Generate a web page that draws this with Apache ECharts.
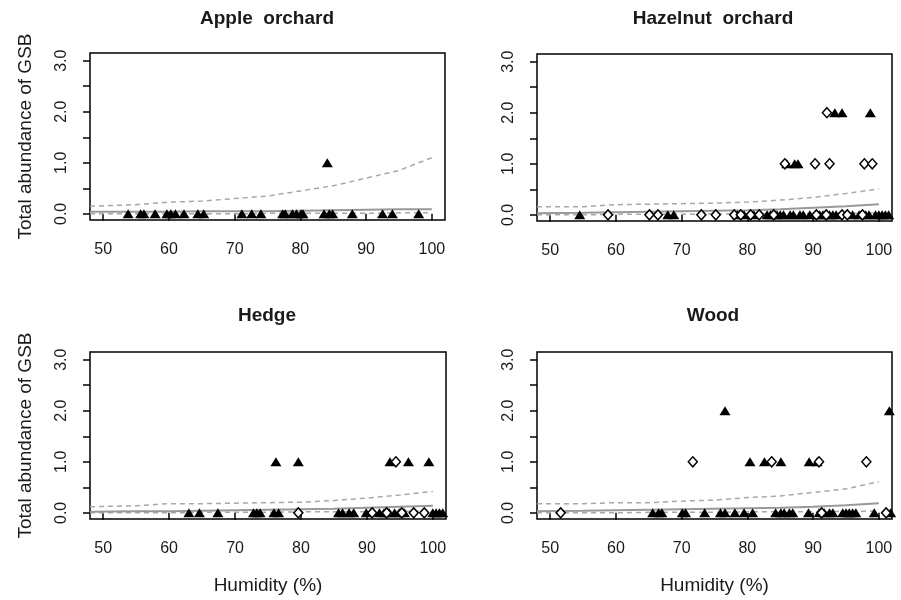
<!DOCTYPE html>
<html>
<head>
<meta charset="utf-8">
<script src="https://cdn.jsdelivr.net/npm/echarts@6/dist/echarts.min.js"></script>
<style>html,body{margin:0;padding:0;background:#fff}#c{width:901px;height:600px}</style>
</head>
<body>
<div id="c"></div>
<script>
const panelTitles = ['Apple  orchard', 'Hazelnut  orchard', 'Hedge', 'Wood'];
const xTickValues = [50, 60, 70, 80, 90, 100];
const yTickValues = [0, 0.5, 1, 1.5, 2, 2.5, 3];
const yLabelValues = [0, 1, 2, 3];
const yAxisTitle = 'Total abundance of GSB';
const xAxisTitle = 'Humidity (%)';

// curve x grid
const humidityGrid = [48, 55, 60, 65, 70, 75, 80, 85, 90, 95, 100];

// Apple orchard
const appleFit   = [0.04, 0.04, 0.04, 0.05, 0.05, 0.05, 0.06, 0.07, 0.08, 0.09, 0.09];
const appleUpper = [0.15, 0.18, 0.23, 0.25, 0.30, 0.35, 0.45, 0.55, 0.70, 0.85, 1.10];
const appleLower = [0.00, 0.00, 0.00, 0.00, 0.00, 0.01, 0.01, 0.01, 0.01, 0.02, 0.02];
const appleTriangles = [[53.8,0],[55.7,0],[56.2,0],[57.9,0],[59.7,0],[60.3,0],[61.0,0],[62.3,0],[64.4,0],[65.3,0],[71.1,0],[72.6,0],[74.0,0],[77.3,0],[77.7,0],[78.8,0],[79.4,0],[80.1,0],[80.4,0],[83.6,0],[84.4,0],[84.9,0],[87.9,0],[92.5,0],[94.0,0],[98.0,0],[84.1,1]];
const appleDiamonds = [];

// Hazelnut orchard
const hazelFit   = [0.03, 0.04, 0.05, 0.06, 0.07, 0.08, 0.09, 0.11, 0.14, 0.17, 0.21];
const hazelUpper = [0.16, 0.16, 0.20, 0.21, 0.22, 0.23, 0.25, 0.29, 0.34, 0.42, 0.51];
const hazelLower = [0.00, 0.00, 0.01, 0.01, 0.01, 0.02, 0.02, 0.02, 0.03, 0.03, 0.04];
const hazelTriangles = [[54.5,0],[67.9,0],[68.8,0],[78.5,0],[79.5,0],[81,0],[83,0],[83.5,0],[84.5,0],[85,0],[85.5,0],[86.5,0],[87,0],[88,0],[88.5,0],[89.5,0],[91,0],[91.5,0],[92.5,0],[93,0],[93.5,0],[96,0],[97,0],[98,0],[98.5,0],[99.5,0],[100,0],[100.5,0],[101,0],[101.5,0],[86.0,1],[87.2,1],[87.7,1],[93.3,2],[94.4,2],[98.7,2]];
const hazelDiamonds = [[58.8,0],[65.1,0],[66.4,0],[73.0,0],[75.2,0],[78,0],[79,0],[80.5,0],[81.8,0],[84,0],[90.5,0],[92,0],[94.4,0],[95.2,0],[97.5,0],[85.7,1],[90.3,1],[92.5,1],[97.8,1],[99.0,1],[92.1,2]];

// Hedge
const hedgeFit   = [0.02, 0.03, 0.03, 0.04, 0.05, 0.06, 0.07, 0.08, 0.10, 0.12, 0.14];
const hedgeUpper = [0.12, 0.14, 0.18, 0.18, 0.19, 0.20, 0.21, 0.24, 0.29, 0.35, 0.42];
const hedgeLower = [0.00, 0.00, 0.00, 0.01, 0.01, 0.01, 0.02, 0.02, 0.02, 0.03, 0.03];
const hedgeTriangles = [[63.0,0],[64.6,0],[67.4,0],[72.8,0],[73.3,0],[73.8,0],[75.9,0],[76.6,0],[85.7,0],[86.3,0],[87.3,0],[88.0,0],[89.9,0],[91.9,0],[92.6,0],[93.4,0],[94.2,0],[94.9,0],[95.7,0],[100,0],[100.5,0],[101,0],[101.5,0],[76.2,1],[79.6,1],[93.5,1],[96.3,1],[99.4,1]];
const hedgeDiamonds = [[79.6,0],[90.8,0],[93.0,0],[95.3,0],[97.1,0],[98.7,0],[94.4,1]];

// Wood
const woodFit   = [0.03, 0.04, 0.05, 0.06, 0.07, 0.08, 0.09, 0.10, 0.12, 0.15, 0.19];
const woodUpper = [0.18, 0.18, 0.20, 0.20, 0.23, 0.25, 0.30, 0.33, 0.40, 0.47, 0.61];
const woodLower = [0.00, 0.00, 0.00, 0.01, 0.01, 0.01, 0.02, 0.02, 0.02, 0.03, 0.03];
const woodTriangles = [[65.6,0],[66.5,0],[67.0,0],[70.1,0],[70.6,0],[73.5,0],[75.9,0],[76.6,0],[78.1,0],[79.5,0],[80.8,0],[84.3,0],[85.1,0],[85.6,0],[86.4,0],[86.9,0],[89.3,0],[90.9,0],[91.7,0],[92.5,0],[93.0,0],[94.5,0],[95.0,0],[95.5,0],[96.0,0],[96.5,0],[99.3,0],[101.8,0],[80.4,1],[82.6,1],[85.1,1],[89.4,1],[90.6,1],[76.6,2],[101.6,2]];
const woodDiamonds = [[51.6,0],[91.3,0],[101.1,0],[71.7,1],[83.7,1],[90.9,1],[98.1,1]];

const panels = [
  {fit: appleFit, upper: appleUpper, lower: appleLower, tri: appleTriangles, dia: appleDiamonds},
  {fit: hazelFit, upper: hazelUpper, lower: hazelLower, tri: hazelTriangles, dia: hazelDiamonds},
  {fit: hedgeFit, upper: hedgeUpper, lower: hedgeLower, tri: hedgeTriangles, dia: hedgeDiamonds},
  {fit: woodFit, upper: woodUpper, lower: woodLower, tri: woodTriangles, dia: woodDiamonds}
];

const FONT = "'Liberation Sans', Arial, sans-serif";
const TXT = '#1a1a1a';
const grids = [
  {left: 90, top: 53, width: 355, height: 167},
  {left: 537, top: 54, width: 355, height: 167},
  {left: 90, top: 352, width: 356, height: 167},
  {left: 537, top: 352, width: 355, height: 167}
];
const titlePos = [[267, 9], [713, 9], [267, 306], [713, 306]];

const pair = (xs, ys) => xs.map((x, i) => [x, ys[i]]);

const option = {
  animation: false,
  backgroundColor: '#fff',
  title: panelTitles.map((t, i) => ({
    text: t, left: titlePos[i][0], top: titlePos[i][1], textAlign: 'center', padding: 0,
    textStyle: {fontFamily: FONT, fontSize: 19, fontWeight: 'bold', color: TXT}
  })),
  grid: grids.map(g => Object.assign({show: true, borderColor: '#000', borderWidth: 1.5, backgroundColor: 'transparent', containLabel: false}, g)),
  xAxis: grids.map((g, i) => ({
    type: 'value', gridIndex: i, min: 48, max: 102,
    name: i >= 2 ? xAxisTitle : '', nameLocation: 'middle', nameGap: 57,
    nameTextStyle: {fontFamily: FONT, fontSize: 19, color: TXT},
    splitLine: {show: false},
    axisLine: {show: false},
    axisTick: {show: true, customValues: xTickValues, length: 7, lineStyle: {color: '#000', width: 1.5}},
    axisLabel: {customValues: xTickValues, margin: 22, fontFamily: FONT, fontSize: 16, color: TXT}
  })),
  yAxis: grids.map((g, i) => ({
    type: 'value', gridIndex: i, min: -0.12, max: 3.15,
    name: (i % 2 === 0) ? yAxisTitle : '', nameLocation: 'middle', nameRotate: 90, nameGap: 55,
    nameTextStyle: {fontFamily: FONT, fontSize: 19, color: TXT},
    splitLine: {show: false},
    axisLine: {show: false},
    axisTick: {show: true, customValues: yTickValues, length: 7, lineStyle: {color: '#000', width: 1.5}},
    axisLabel: {customValues: yLabelValues, rotate: 90, margin: 20, fontFamily: FONT, fontSize: 16, color: TXT,
      formatter: v => v.toFixed(1)}
  })),
  series: []
};

panels.forEach((p, i) => {
  option.series.push({
    type: 'line', xAxisIndex: i, yAxisIndex: i, data: pair(humidityGrid, p.upper), showSymbol: false, symbol: 'none',
    lineStyle: {color: '#a8a8a8', width: 1.5, type: [5, 4]}, z: 3
  });
  option.series.push({
    type: 'line', xAxisIndex: i, yAxisIndex: i, data: pair(humidityGrid, p.lower), showSymbol: false, symbol: 'none',
    lineStyle: {color: '#a8a8a8', width: 1.5, type: [5, 4]}, z: 3
  });
  option.series.push({
    type: 'line', xAxisIndex: i, yAxisIndex: i, data: pair(humidityGrid, p.fit), showSymbol: false, symbol: 'none',
    lineStyle: {color: '#999', width: 2}, z: 3
  });
  option.series.push({
    type: 'scatter', xAxisIndex: i, yAxisIndex: i, data: p.tri, symbol: 'triangle', symbolSize: [11, 9],
    itemStyle: {color: '#000', opacity: 1}, z: 4
  });
  option.series.push({
    type: 'scatter', xAxisIndex: i, yAxisIndex: i, data: p.dia, symbol: 'diamond', symbolSize: [9, 10],
    itemStyle: {color: '#fff', borderColor: '#000', borderWidth: 1.5, opacity: 1}, z: 4
  });
});

const chart = echarts.init(document.getElementById('c'), null, {renderer: 'canvas'});
chart.setOption(option);
</script>
</body>
</html>
